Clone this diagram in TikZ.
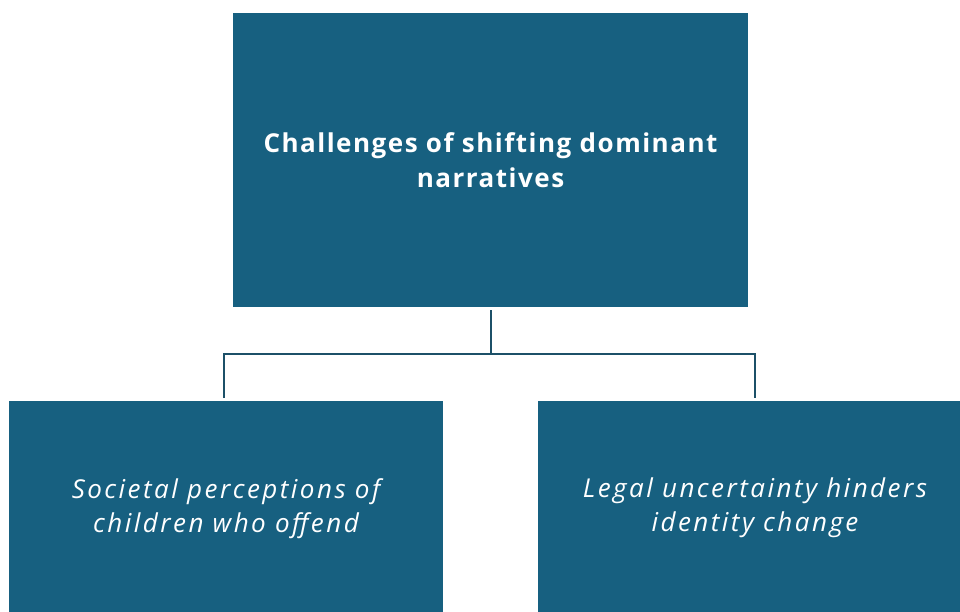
\documentclass[tikz,border=0pt]{standalone}
\usepackage{fontspec}
\newfontfamily\headfont[LetterSpace=5.8]{Open Sans}
\newfontfamily\leaffont[LetterSpace=9.5]{Open Sans}
\definecolor{boxblue}{RGB}{23,96,128}
\definecolor{linkblue}{RGB}{28,80,104}
\tikzset{
  box/.style={fill=boxblue, draw=none, text=white, align=center, inner sep=0pt},
  headbox/.style={box, minimum width=515pt, minimum height=294pt,
    font=\headfont\bfseries\fontsize{26}{35}\selectfont},
  leafbox/.style={box, minimum width=434pt, minimum height=214pt,
    font=\leaffont\itshape\fontsize{26}{34}\selectfont},
  conn/.style={draw=linkblue, line width=2pt}
}
\begin{document}
\begin{tikzpicture}[x=1pt,y=1pt]
  \useasboundingbox (0,0) rectangle (960,-611);
  \clip (0,0) rectangle (960,-611);
  \node[headbox] (top) at (490.5,-160) {Challenges of shifting dominant\\narratives};
  \node[leafbox, anchor=north] (left) at (226,-401) {Societal perceptions of\\children who offend};
  \node[leafbox, anchor=north] (right) at (755,-401) {Legal uncertainty hinders\\identity change};
  \coordinate (j) at (490.5,-354);
  \draw[conn] ([yshift=-3pt]top.south) -- (j);
  \draw[conn] ([xshift=-2pt,yshift=3pt]left.north) |- (j) -| ([yshift=3pt]right.north);
\end{tikzpicture}
\end{document}
